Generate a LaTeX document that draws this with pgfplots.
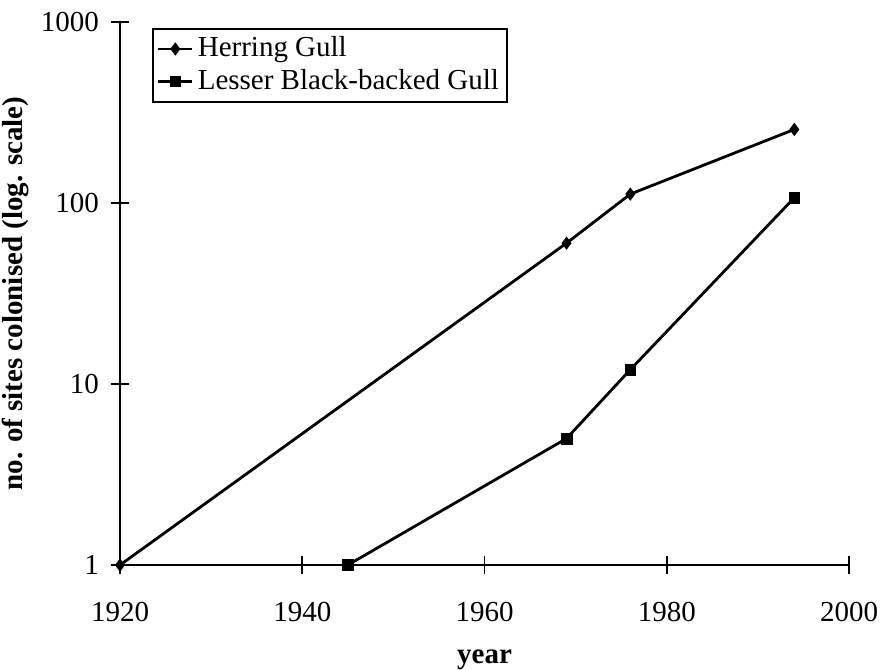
\documentclass[border=0pt]{standalone}
\usepackage{fontspec}
\setmainfont{Liberation Serif}
\usepackage{pgfplots}
\pgfplotsset{compat=1.18}

\begin{document}
\fontsize{14.5}{17.5}\selectfont
\begin{tikzpicture}
\begin{axis}[
    name=ax,
    scale only axis,
    width=364.5pt,
    height=271.5pt,
    xmin=1920, xmax=2000,
    ymode=log, log basis y=10,
    ymin=1, ymax=1000,
    axis x line=bottom,
    axis y line=left,
    axis line style={-, line width=0.8pt, black},
    xtick={1920,1940,1960,1980,2000},
    xticklabels={1920,1940,1960,1980,2000},
    ytick={1,10,100,1000},
    yticklabels={1,10,100,1000},
    yminorticks=false,
    xminorticks=false,
    tick align=center,
    major tick length=9pt,
    tick style={line width=0.8pt, black},
    ticklabel style={font=\fontsize{14.5}{17.5}\selectfont},
    xticklabel style={yshift=-9pt},
    yticklabel style={xshift=-1pt},
    xlabel={\textbf{year}},
    ylabel={\textbf{no. of sites colonised (log. scale)}},
    xlabel style={at={(axis description cs:0.5,-0.175)}, anchor=center},
    ylabel style={at={(axis description cs:-0.144,0.5)}, anchor=center},
    label style={font=\fontsize{14.5}{17.5}\selectfont},
    legend style={
        at={(axis description cs:0.044,0.989)}, anchor=north west,
        draw=black, line width=0.8pt, fill=white,
        font=\fontsize{14.5}{17.5}\selectfont,
        row sep=0pt, inner sep=2pt,
        cells={anchor=west},
    },
    legend cell align=left,
    clip=false,
]
\addplot[black, line width=1.4pt, mark=diamond*, mark size=3pt,
    mark options={solid, line width=0.4pt}] coordinates {
    (1920,1) (1969,60) (1976,112) (1994,255)
};
\addplot[black, line width=1.4pt, mark=square*, mark size=2.7pt,
    mark options={solid, line width=0.4pt}] coordinates {
    (1945,1) (1969,5) (1976,12) (1994,107)
};
\legend{Herring Gull, Lesser Black-backed Gull}
\end{axis}
\pgfresetboundingbox
\path[use as bounding box] ([xshift=-60pt,yshift=-52pt]ax.south west)
    rectangle ([xshift=15.5pt,yshift=11pt]ax.north east);
\end{tikzpicture}
\end{document}
